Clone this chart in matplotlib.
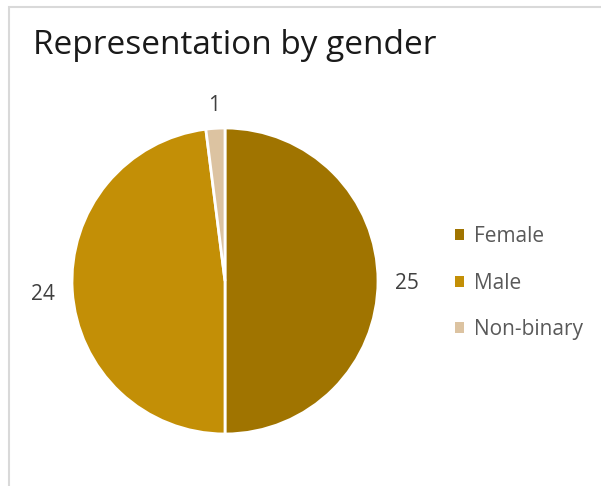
import numpy as np
import matplotlib.pyplot as plt
from matplotlib.patches import Patch, Rectangle

labels = ['Female', 'Male', 'Non-binary']
counts = [25, 24, 1]
colors = ['#A07400', '#C38F06', '#DCC3A1']

fig = plt.figure(figsize=(6.01, 4.86), dpi=100)
W, H = 601, 486

# chart frame (light grey border, cut off on right/bottom)
fig.patches.append(Rectangle((9 / W, -0.1), 1.2, (486 - 7) / H + 0.1, transform=fig.transFigure,
                             fill=False, edgecolor='#D9D9D9', linewidth=1.5))

fig.text(33 / W, 1 - 46 / H, 'Representation by gender', fontsize=24, family='Open Sans',
         color='#1A1A1A', va='center', ha='left')

# pie: centre (225, 281) px, radius 153 px
cx, cy, r = 225, 281, 153
ax = fig.add_axes([(cx - r) / W, (H - cy - r) / H, 2 * r / W, 2 * r / H])
wedges, texts = ax.pie(counts, labels=[str(c) for c in counts], colors=colors, startangle=90,
                       counterclock=False, labeldistance=1.2,
                       wedgeprops=dict(edgecolor='white', linewidth=2),
                       textprops=dict(fontsize=15, family='Open Sans', color='#404040'))
ax.set_xlim(-1, 1)
ax.set_ylim(-1, 1)
ax.set_aspect('equal')

# put labels outside like Excel: box edge a fixed gap from the rim
fig.canvas.draw()
ren = fig.canvas.get_renderer()
gap = 17 / r
for w, t in zip(wedges, texts):
    ang = np.deg2rad((w.theta1 + w.theta2) / 2)
    bb = t.get_window_extent(ren)
    hw, hh = bb.width / 2 / r, 0.4 * bb.height / r
    d = 1 + gap + hw * abs(np.cos(ang)) + hh * abs(np.sin(ang))
    t.set_position((d * np.cos(ang), d * np.sin(ang)))
    t.set_ha('center')
    t.set_va('center_baseline')

handles = [Patch(facecolor=c, edgecolor='none') for c in colors]
fig.legend(handles, labels, loc='upper left', bbox_to_anchor=(455 / W, 1 - 226 / H),
           frameon=False, handlelength=0.45, handleheight=0.45, handletextpad=0.45,
           labelspacing=1.23, prop=dict(family='Open Sans', size=15), labelcolor='#595959',
           borderaxespad=0, borderpad=0)

fig.savefig('out.png', dpi=100)
